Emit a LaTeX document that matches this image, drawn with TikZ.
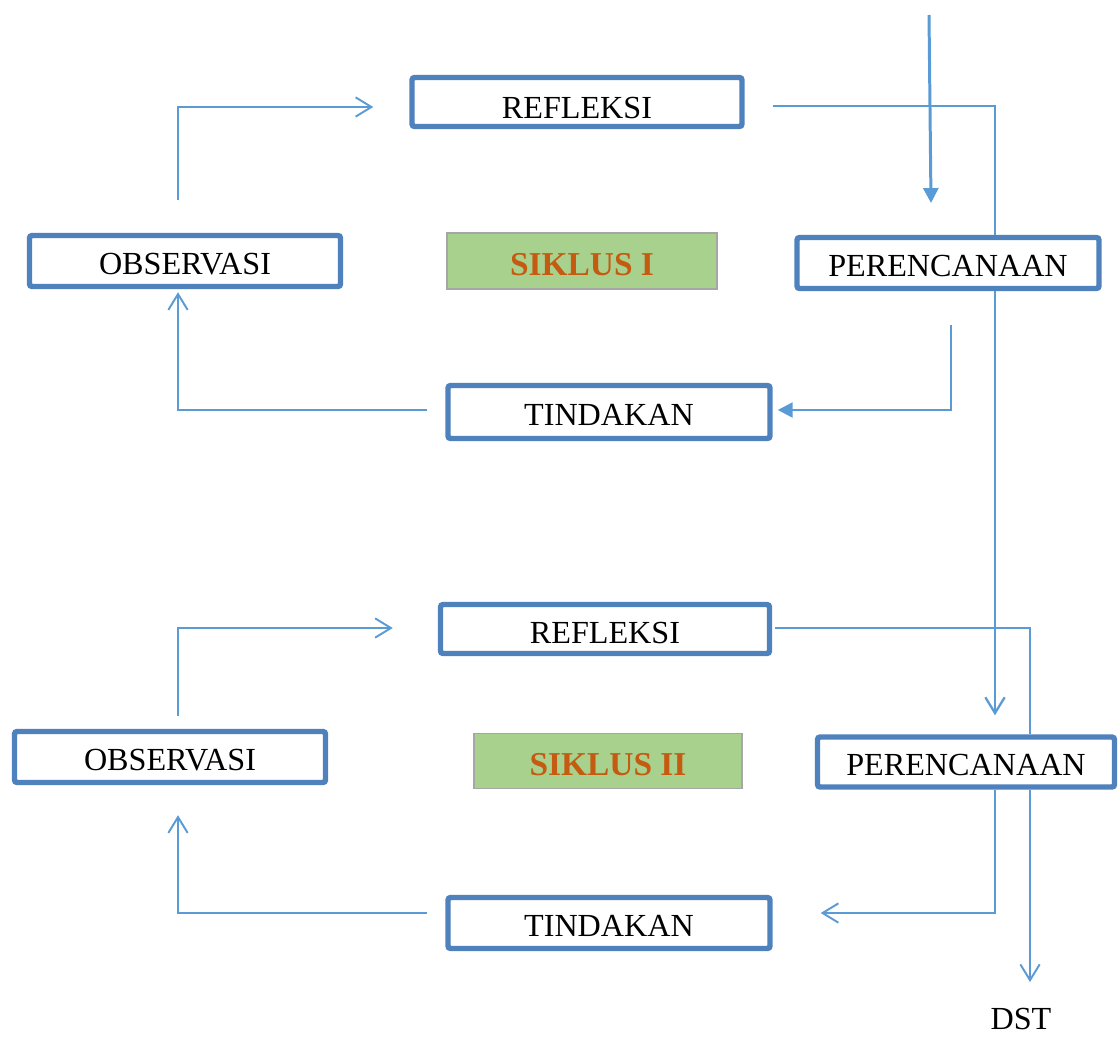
\documentclass[tikz,border=0pt]{standalone}
\usepackage{fontspec}
\setmainfont{Liberation Serif}
\usetikzlibrary{arrows.meta,calc}
\definecolor{kotakbiru}{RGB}{79,129,189}
\definecolor{garisbiru}{RGB}{91,155,213}
\definecolor{hijau}{RGB}{169,209,142}
\definecolor{abu}{RGB}{166,166,166}
\definecolor{jingga}{RGB}{197,90,17}
\tikzstyle{kotak}=[draw=kotakbiru, line width=3.1pt, rounded corners=1.5pt, fill=white, inner sep=0pt, text height=15.5pt, text depth=0pt, font=\fontsize{18.3}{20}\selectfont]
\tikzstyle{siklus}=[draw=abu, line width=.7pt, fill=hijau, text=jingga, inner sep=0pt, text height=16pt, text depth=0pt, font=\fontsize{19}{20}\selectfont\bfseries]
\tikzstyle{garis}=[draw=garisbiru, line width=1pt]
\tikzstyle{panah}=[garis, -{Straight Barb[length=9pt, width=11pt, line width=1.1pt]}]
\tikzstyle{panahtebal}=[garis, line width=1.7pt, -{Triangle[length=8.5pt, width=8.5pt]}]

\begin{document}
\begin{tikzpicture}[x=0.2mm, y=-0.2mm]
  \useasboundingbox (0,0) rectangle (1119,1036);
  \node[kotak, minimum width=6.6cm, minimum height=.98cm, text height=19pt] (ref1) at (577,102) {REFLEKSI};
  \node[kotak, minimum width=6.22cm, minimum height=1.02cm] (obs1) at (185,261) {OBSERVASI};
  \node[siklus, minimum width=5.4cm, minimum height=1.12cm] (sik1) at (582,261) {SIKLUS I};
  \node[kotak, minimum width=6.04cm, minimum height=1.02cm] (per1) at (948,263) {PERENCANAAN};
  \node[kotak, minimum width=6.44cm, minimum height=1.06cm] (tin1) at (609,412) {TINDAKAN};
  \node[kotak, minimum width=6.58cm, minimum height=.98cm, text height=17pt] (ref2) at (605,629) {REFLEKSI};
  \node[kotak, minimum width=6.22cm, minimum height=1.02cm] (obs2) at (170,757) {OBSERVASI};
  \node[siklus, minimum width=5.36cm, minimum height=1.1cm] (sik2) at (608,761) {SIKLUS II};
  \node[kotak, minimum width=5.94cm, minimum height=1cm] (per2) at (966,762) {PERENCANAAN};
  \node[kotak, minimum width=6.44cm, minimum height=1.02cm] (tin2) at (609,923) {TINDAKAN};
  \node[font=\fontsize{18.3}{20}\selectfont, inner sep=0pt] (dst) at (1021,1019) {DST};
  \coordinate (masuk) at (929,15);
  \coordinate (masukujung) at (931,203);
  \coordinate (dstujung) at (1030,982);

  \draw[panahtebal] (masuk) -- (masukujung);
  \draw[garis] ($(ref1.east)+(28,4)$) -| ($(per1.north)+(47,0)$);
  \draw[panahtebal, line width=1.4pt, -{Straight Barb[length=9pt, width=11pt, line width=1.3pt]}] ($(per1.south)+(47,0)$) -- ($(per2.north)+(29,-19)$);
  \draw[panahtebal, line width=1.4pt] ($(per1.south)+(3,34)$) |- ($(tin1.east)+(5,-2)$);
  \draw[panah] ($(tin1.west)+(-18,-2)$) -| ($(obs1.south)+(-7,3)$);
  \draw[panah] ($(obs1.north)+(-7,-33)$) |- ($(ref1.west)+(-36,5)$);

  \draw[garis] ($(ref2.east)+(3,-1)$) -| ($(per2.north)+(64,0)$);
  \draw[panah] ($(per2.south)+(64,0)$) -- (dstujung);
  \draw[panah] ($(per2.south)+(29,0)$) |- ($(tin2.east)+(48,-10)$);
  \draw[panah] ($(tin2.west)+(-18,-10)$) -| ($(obs2.south)+(8,30)$);
  \draw[panah] ($(obs2.north)+(8,-13)$) |- ($(ref2.west)+(-45,-1)$);
\end{tikzpicture}
\end{document}
